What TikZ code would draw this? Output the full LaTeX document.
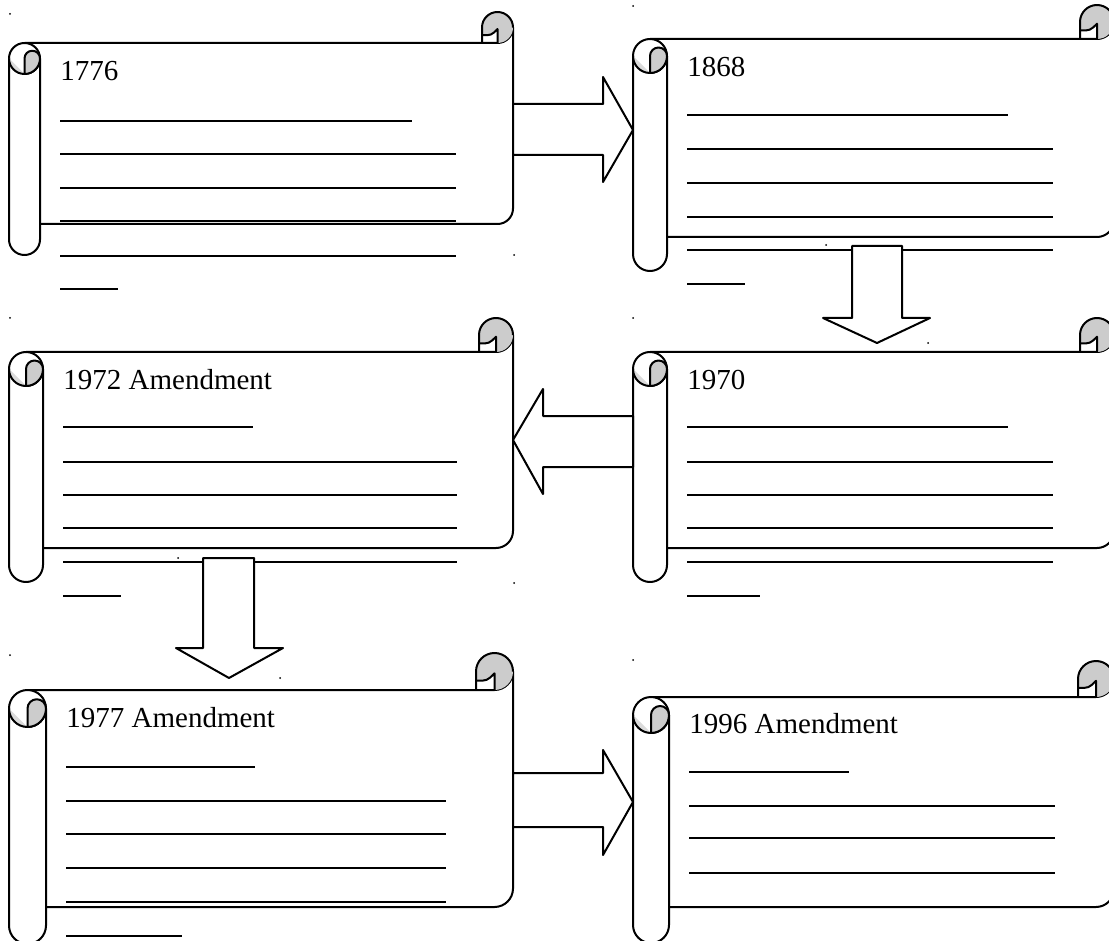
\documentclass[tikz,border=0pt]{standalone}
\usepackage{fontspec}
\setmainfont{Liberation Serif}
\definecolor{curlgray}{RGB}{204,204,204}
\tikzset{
	outline/.style={line width=1pt, line join=round},
	rule/.style={line width=0.6pt},
	year/.style={anchor=base west, inner sep=0pt, font=\fontsize{14.5}{17}\selectfont},
	blockarrow/.style={outline, fill=white},
}
% #1 left, #2 top, #3 right, #4 bottom, #5 roll radius (pixels, y downwards)
\newcommand\drawscroll[5]{
	\fill[white] ({#1+#5},{-#2}) rectangle ({#3},{-#4});
	\draw[outline] ({#1+2*#5},{-#4}) -- ({#3-#5},{-#4}) arc[start angle=-90, end angle=0, radius=#5]
		-- ({#3},{-#2+#5}) arc[start angle=0, end angle=-90, radius=#5] -- ({#1+#5},{-#2});
	\fill[curlgray] ({#3-2*#5},{-#2+#5}) arc[start angle=180, end angle=-90, radius=#5]
		-- ({#3-#5},{-#2+0.9*#5}) .. controls ({#3-1.4*#5},{-#2+0.5*#5}) .. ({#3-2*#5},{-#2+0.5*#5}) -- cycle;
	\draw[outline] ({#3-2*#5},{-#2}) -- ({#3-2*#5},{-#2+#5}) arc[start angle=180, end angle=0, radius=#5];
	\draw[outline] ({#3-2*#5},{-#2+0.5*#5}) .. controls ({#3-1.4*#5},{-#2+0.5*#5}) .. ({#3-#5},{-#2+0.9*#5}) -- ({#3-#5},{-#2});
	\filldraw[outline, fill=white] (#1,{-#2-#5}) arc[start angle=180, end angle=0, radius=#5]
		-- ({#1+2*#5},{-#4-#5}) arc[start angle=0, end angle=-180, radius=#5] -- cycle;
	\fill[curlgray!70] (#1,{-#2-#5}) arc[start angle=180, end angle=270, radius=#5] -- cycle;
	\draw[outline] (#1,{-#2-#5}) arc[start angle=180, end angle=360, radius=#5];
	\filldraw[outline, fill=curlgray] ({#1+#5},{-#2-2*#5}) -- ({#1+#5},{-#2-#5})
		arc[start angle=180, end angle=0, radius=#5/2] arc[start angle=0, end angle=-90, radius=#5] -- cycle;
}
% #1 x start, #2 x end of long rules, #3 end of first rule, #4 end of last rule, #5 list of rule heights
\newcommand\drawrules[5]{
	\foreach \y [count=\i] in {#5} {
		\ifnum\i=1 \draw[rule] (#1,-\y) -- (#3,-\y);
		\else \draw[rule] (#1,-\y) -- (#2,-\y); \fi
	}
	\ifx&#4&\else \draw[rule] (#1,-\lasty) -- (#4,-\lasty);\fi
}
\begin{document}
\begin{tikzpicture}[x=0.5pt, y=0.5pt]
	\useasboundingbox (0,0) rectangle (1109,-941);
	\clip (0,0) rectangle (1109,-941);

	\drawscroll{9}{43}{513}{224}{15.5}
	\drawscroll{633}{39}{1114}{237}{17}
	\drawscroll{9}{352}{513}{548}{17}
	\drawscroll{633}{352}{1114}{548}{17}
	\drawscroll{9}{690}{513}{907}{18.5}
	\drawscroll{633}{697}{1114}{907}{18}

	\node[year] (y1776) at (60,-81) {1776};
	\node[year] (y1868) at (687,-77) {1868};
	\node[year] (y1972) at (63,-389) {1972 Amendment};
	\node[year] (y1970) at (687,-389) {1970};
	\node[year] (y1977) at (66,-727) {1977 Amendment};
	\node[year] (y1996) at (689,-733) {1996 Amendment};

	\def\lasty{289}\drawrules{60}{456}{412}{118}{121,154,188,221,256}
	\def\lasty{284}\drawrules{687}{1053}{1008}{745}{115,149,183,217,250}
	\def\lasty{596}\drawrules{63}{457}{253}{121}{427,462,495,528,562}
	\def\lasty{596}\drawrules{687}{1053}{1008}{760}{427,462,495,528,562}
	\def\lasty{936}\drawrules{66}{446}{255}{182}{767,801,834,868,902}
	\drawrules{689}{1055}{849}{}{772,806,838,873}

	\draw[blockarrow] (513,-104) -- (603,-104) -- (603,-77) -- (633,-130) -- (603,-182) -- (603,-155) -- (513,-155) -- cycle;
	\draw[blockarrow] (852,-246) -- (852,-318) -- (823,-318) -- (877,-343) -- (930,-318) -- (902,-318) -- (902,-246) -- cycle;
	\draw[blockarrow] (633,-416) -- (543,-416) -- (543,-389) -- (513,-440) -- (543,-494) -- (543,-467) -- (633,-467) -- cycle;
	\draw[blockarrow] (203,-558) -- (203,-648) -- (176,-648) -- (229,-678) -- (283,-648) -- (254,-648) -- (254,-558) -- cycle;
	\draw[blockarrow] (513,-773) -- (603,-773) -- (603,-750) -- (633,-802) -- (603,-855) -- (603,-827) -- (513,-827) -- cycle;

	\foreach \p in {(10,-14),(633,-6),(10,-318),(633,-318),(10,-655),(633,-660),(514,-583),(514,-255),(178,-558),(280,-678),(826,-245),(928,-343)}
		\fill \p circle[radius=1];
\end{tikzpicture}
\end{document}
